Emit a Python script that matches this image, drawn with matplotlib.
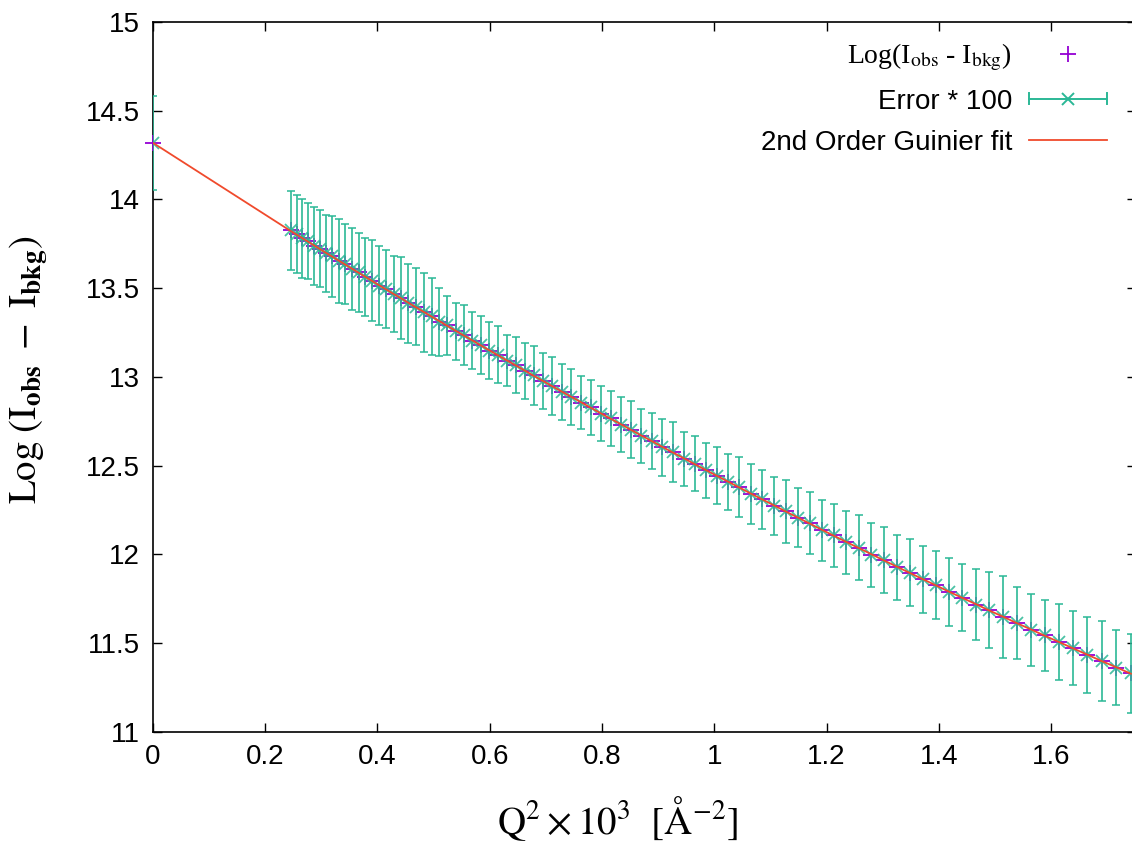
import matplotlib
matplotlib.use("Agg")
import matplotlib.pyplot as plt
from matplotlib.lines import Line2D
from matplotlib.legend_handler import HandlerBase
from matplotlib.ticker import FormatStrFormatter, MultipleLocator

# Q^2 * 10^3 [A^-2]; the first point is the Q=0 extrapolation
Q2 = [0.0,
      0.2463, 0.2563, 0.2664, 0.2767, 0.2873, 0.2980, 0.3090, 0.3201, 0.3314, 0.3429,
      0.3546, 0.3666, 0.3787, 0.3910, 0.4035, 0.4162, 0.4291, 0.4422, 0.4555, 0.4690,
      0.4827, 0.4966, 0.5107, 0.5249, 0.5394, 0.5541, 0.5690, 0.5840, 0.5993, 0.6147,
      0.6304, 0.6463, 0.6623, 0.6786, 0.6950, 0.7117, 0.7285, 0.7456, 0.7628, 0.7802,
      0.7978, 0.8157, 0.8337, 0.8519, 0.8703, 0.8889, 0.9078, 0.9268, 0.9459, 0.9653,
      0.9850, 1.0048, 1.0248, 1.0449, 1.0653, 1.0859, 1.1067, 1.1277, 1.1488, 1.1702,
      1.1918, 1.2135, 1.2355, 1.2576, 1.2800, 1.3026, 1.3253, 1.3483, 1.3714, 1.3947,
      1.4183, 1.4420, 1.4660, 1.4900, 1.5144, 1.5389, 1.5637, 1.5886, 1.6136, 1.6390,
      1.6645, 1.6902, 1.7161, 1.7421]

# Log(I_obs - I_bkg)
LOG_I = [14.318,
         13.826, 13.805, 13.780, 13.765, 13.738, 13.722, 13.696, 13.679, 13.653, 13.635,
         13.608, 13.589, 13.562, 13.542, 13.514, 13.494, 13.465, 13.446, 13.414, 13.394,
         13.363, 13.342, 13.311, 13.290, 13.257, 13.235, 13.204, 13.180, 13.148, 13.124,
         13.091, 13.067, 13.034, 13.008, 12.975, 12.949, 12.915, 12.889, 12.855, 12.828,
         12.793, 12.766, 12.731, 12.703, 12.667, 12.640, 12.603, 12.575, 12.539, 12.510,
         12.473, 12.444, 12.407, 12.378, 12.340, 12.311, 12.273, 12.243, 12.205, 12.175,
         12.136, 12.106, 12.067, 12.037, 11.998, 11.967, 11.928, 11.897, 11.858, 11.827,
         11.787, 11.756, 11.717, 11.685, 11.646, 11.614, 11.575, 11.543, 11.504, 11.472,
         11.432, 11.400, 11.361, 11.329]

# error * 100
ERR100 = [0.265,
          0.222, 0.218, 0.220, 0.213, 0.221, 0.216, 0.219, 0.229, 0.235, 0.226,
          0.231, 0.222, 0.218, 0.229, 0.224, 0.221, 0.214, 0.230, 0.221, 0.217,
          0.220, 0.218, 0.192, 0.164, 0.160, 0.169, 0.160, 0.162, 0.160, 0.160,
          0.144, 0.160, 0.156, 0.164, 0.157, 0.163, 0.160, 0.158, 0.150, 0.153,
          0.157, 0.157, 0.153, 0.160, 0.153, 0.159, 0.160, 0.168, 0.152, 0.155,
          0.155, 0.163, 0.160, 0.169, 0.168, 0.166, 0.164, 0.178, 0.166, 0.175,
          0.172, 0.180, 0.176, 0.184, 0.181, 0.186, 0.183, 0.190, 0.188, 0.191,
          0.191, 0.191, 0.202, 0.213, 0.232, 0.204, 0.202, 0.202, 0.214, 0.209,
          0.213, 0.225, 0.213, 0.224]

# 2nd order Guinier fit evaluated at the data points
FIT = [14.320,
       13.821, 13.802, 13.782, 13.762, 13.741, 13.720, 13.698, 13.677, 13.655, 13.633,
       13.610, 13.587, 13.564, 13.540, 13.516, 13.492, 13.467, 13.443, 13.417, 13.392,
       13.366, 13.340, 13.314, 13.287, 13.260, 13.233, 13.206, 13.178, 13.150, 13.122,
       13.093, 13.065, 13.036, 13.006, 12.977, 12.947, 12.917, 12.887, 12.857, 12.826,
       12.795, 12.764, 12.733, 12.701, 12.669, 12.638, 12.605, 12.573, 12.541, 12.508,
       12.475, 12.442, 12.409, 12.376, 12.342, 12.309, 12.275, 12.241, 12.207, 12.173,
       12.138, 12.104, 12.069, 12.035, 12.000, 11.965, 11.930, 11.895, 11.860, 11.825,
       11.789, 11.754, 11.719, 11.683, 11.648, 11.612, 11.577, 11.541, 11.506, 11.470,
       11.434, 11.398, 11.363, 11.327]

PURPLE = "#9400d3"
GREEN = "#2bb896"
RED = "#f04a2c"


class HandlerGnuplotErr(HandlerBase):
    """horizontal bar with end caps and a cross in the middle, like gnuplot's key"""

    def create_artists(self, legend, orig_handle, xdescent, ydescent, width, height, fontsize, trans):
        y = height / 2.0 - ydescent
        x0, x1 = -xdescent, width - xdescent
        cap = 0.28 * height
        arts = [Line2D([x0, x1], [y, y], color=GREEN, lw=1.4),
                Line2D([x0, x0], [y - cap, y + cap], color=GREEN, lw=1.4),
                Line2D([x1, x1], [y - cap, y + cap], color=GREEN, lw=1.4),
                Line2D([(x0 + x1) / 2.0], [y], marker="x", ms=8, mew=1.4, color=GREEN, ls="none")]
        for a in arts:
            a.set_transform(trans)
        return arts


plt.rcParams["font.family"] = ["Liberation Sans", "DejaVu Sans"]
plt.rcParams["mathtext.fontset"] = "stix"

fig = plt.figure(figsize=(11.32, 8.47), dpi=100)
ax = fig.add_axes([0.1349, 0.1361, 0.8686, 0.8379])

ax.plot(Q2, LOG_I, ls="none", marker="+", ms=11, mew=1.3, color=PURPLE, clip_on=False, zorder=3)
ax.errorbar(Q2, LOG_I, yerr=ERR100, fmt="x", ms=8, mew=1.3, color=GREEN, ecolor=GREEN,
            elinewidth=1.4, capsize=3, capthick=1.4, zorder=4, alpha=0.85)
ax.plot(Q2, FIT, color=RED, lw=1.3, zorder=5)

ax.set_xlim(0, 1.751)
ax.set_ylim(11, 15)
ax.xaxis.set_major_locator(MultipleLocator(0.2))
ax.yaxis.set_major_locator(MultipleLocator(0.5))
ax.xaxis.set_major_formatter(FormatStrFormatter("%g"))
ax.yaxis.set_major_formatter(FormatStrFormatter("%g"))
ax.tick_params(direction="in", top=True, right=True, length=6.5, width=1.0, labelsize=20, pad=9)
for s in ax.spines.values():
    s.set_linewidth(1.2)

ax.set_xlabel(r"$\mathrm{Q^2\times10^3\ \ [\AA^{-2}]}$", fontsize=28)
ax.xaxis.set_label_coords(0.473, -0.088)
ax.set_ylabel(r"$\mathrm{Log\ (I_{\mathbf{obs}}\ -\ I_{\mathbf{bkg}})}$", fontsize=28)
ax.yaxis.set_label_coords(-0.104, 0.51)

h_obs = Line2D([], [], ls="none", marker="+", ms=11, mew=1.3, color=PURPLE)
h_err = Line2D([], [], color=GREEN)
h_fit = Line2D([], [], color=RED, lw=1.3)
leg = ax.legend([h_obs, h_err, h_fit],
                [r"Log(I$_{\rm obs}$ - I$_{\rm bkg}$)", "Error * 100", "2nd Order Guinier fit"],
                handler_map={h_err: HandlerGnuplotErr()},
                loc="upper right", bbox_to_anchor=(0.9705, 0.972), borderaxespad=0, borderpad=0,
                frameon=False, markerfirst=False, fontsize=20, handlelength=2.8,
                handletextpad=0.62, labelspacing=0.55)
leg.get_texts()[0].set_fontfamily(["Liberation Serif"])

fig.savefig("out.png", dpi=100)
